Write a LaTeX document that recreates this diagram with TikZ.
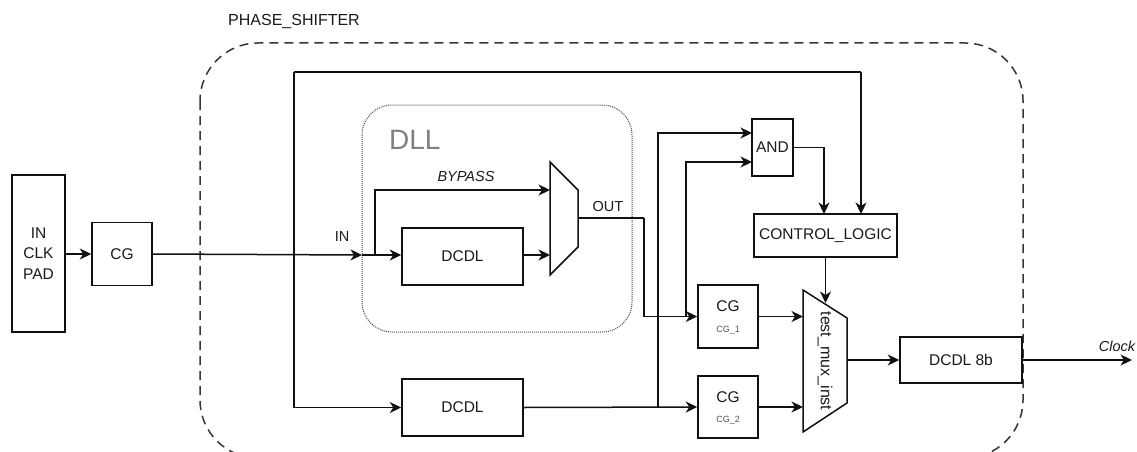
\documentclass[tikz,border=0pt]{standalone}
\usepackage{fontspec}
\setmainfont{Liberation Sans}
\usetikzlibrary{arrows.meta}
\newcommand{\fsz}[1]{\fontsize{#1}{#1}\selectfont}
\definecolor{txt}{HTML}{1A1A1A}
\definecolor{lne}{HTML}{111111}
\begin{document}
\begin{tikzpicture}[x=1pt,y=-1pt,
  blk/.style={draw=lne, line width=1.5pt, fill=white, inner sep=0pt, text=txt, font=\fsz{15.5}},
  arr/.style={-{Stealth[length=11.5pt,width=11pt,inset=3.5pt]}, line width=1.5pt, draw=lne},
  ln/.style={line width=1.5pt, draw=lne},
  lbl/.style={inner sep=0pt, text=txt, font=\fsz{14.5}}]
\useasboundingbox (0,0) rectangle (1137,452);
% outer dashed block
\begin{scope}
\clip (0,0) rectangle (1137,452);
\draw[line width=1.5pt, draw=lne!85, dash pattern=on 9pt off 6pt, rounded corners=58pt] (200,43) rectangle (1023,458);
\end{scope}
\node[inner sep=0pt, text=txt, font=\fsz{16}, anchor=west] (ps) at (228,22) {PHASE\_SHIFTER};
% DLL dotted block
\draw[line width=1pt, draw=gray!60!black, dash pattern=on 1pt off 1pt, rounded corners=30pt] (362,105) rectangle (632,332);
\node[inner sep=0pt, text=gray, font=\fsz{28}, anchor=west] (dll) at (389,140) {DLL};
% blocks
\node[blk, minimum width=53pt, minimum height=157pt, align=center, font=\fontsize{15.5}{20.5}\selectfont] (pad) at (38.5,253.5) {IN\\CLK\\PAD};
\node[blk, minimum width=60pt, minimum height=63pt] (cg) at (122,254) {CG};
\node[blk, minimum width=121pt, minimum height=57pt] (dcdl1) at (462.5,256.5) {DCDL};
\node[blk, minimum width=121pt, minimum height=57pt] (dcdl2) at (462.5,407.5) {DCDL};
\node[blk, minimum width=41pt, minimum height=57pt] (and) at (772.5,147.5) {AND};
\node[blk, minimum width=143pt, minimum height=43pt] (ctrl) at (825.5,235.5) {CONTROL\_LOGIC};
\node[blk, minimum width=60pt, minimum height=63pt] (cg1) at (728,316.5) {};
\node[inner sep=0pt, text=txt, font=\fsz{15.5}] (cg1t) at (728,306) {CG};
\node[inner sep=0pt, text=txt!75, font=\fsz{9}] (cg1s) at (728,330) {CG\_1};
\node[blk, minimum width=60pt, minimum height=62pt] (cg2) at (728,407) {};
\node[inner sep=0pt, text=txt, font=\fsz{15.5}] (cg2t) at (728,397) {CG};
\node[inner sep=0pt, text=txt!75, font=\fsz{9}] (cg2s) at (728,420) {CG\_2};
\node[blk, minimum width=122pt, minimum height=46pt] (dcdl8) at (961,360) {DCDL 8b};
% muxes
\draw[ln, fill=white] (550,162) -- (578,190) -- (578,247) -- (550,275) -- cycle;
\coordinate (m1a) at (550,190);
\coordinate (m1b) at (550,255);
\coordinate (m1o) at (578,218);
\draw[ln, fill=white] (803,290) -- (847,318) -- (847,403) -- (803,432) -- cycle;
\node[inner sep=0pt, text=txt, font=\fsz{16}, rotate=-90] (muxt) at (825,361) {test\_mux\_inst};
\coordinate (m2a) at (803,316.5);
\coordinate (m2b) at (803,407);
\coordinate (m2o) at (847,360);
\coordinate (m2s) at (825.5,303);
% labels
\node[lbl] (inl) at (342,237) {IN};
\node[lbl, font=\itshape\fsz{14.5}] (bpl) at (466,177) {BYPASS};
\node[lbl] (outl) at (608,207) {OUT};
\node[lbl, font=\itshape\fsz{14.5}] (clkl) at (1117,346) {Clock};
% coordinates
\coordinate (inp) at (362,255);
\coordinate (bp) at (375,255);
\coordinate (tl) at (294,72);
\coordinate (tr) at (861,72);
\coordinate (ctop) at (861,214);
\coordinate (adrop) at (824,214);
\coordinate (oj) at (644,218);
\coordinate (v1) at (658,407);
\coordinate (v2) at (686,316.5);
\coordinate (and1) at (752,133);
\coordinate (and2) at (752,162);
\coordinate (clk) at (1132,360);
% connectors
\draw[arr] (pad.east |- cg.west) -- (cg.west);
\draw[arr] (cg.east) -- (inp);
\draw[arr] (inp) -- (dcdl1.west |- inp);
\draw[arr] (bp) |- (m1a);
\draw[arr] (dcdl1.east |- m1b) -- (m1b);
\draw[ln] (m1o) -- (oj);
\draw[arr] (oj) |- (cg1.west);
\draw[arr] (tl) |- (dcdl2.west);
\draw[ln] (tl) -- (tr);
\draw[arr] (tr) -- (ctop);
\draw[arr] (and.east) -| (adrop);
\draw[arr] (ctrl.south) -- (m2s);
\draw[arr] (dcdl2.east) -- (cg2.west);
\draw[arr] (v1) |- (and1);
\draw[arr] (v2) |- (and2);
\draw[arr] (cg1.east) -- (m2a);
\draw[arr] (cg2.east) -- (m2b);
\draw[arr] (m2o) -- (dcdl8.west);
\draw[arr] (dcdl8.east) -- (clk);
\end{tikzpicture}
\end{document}
